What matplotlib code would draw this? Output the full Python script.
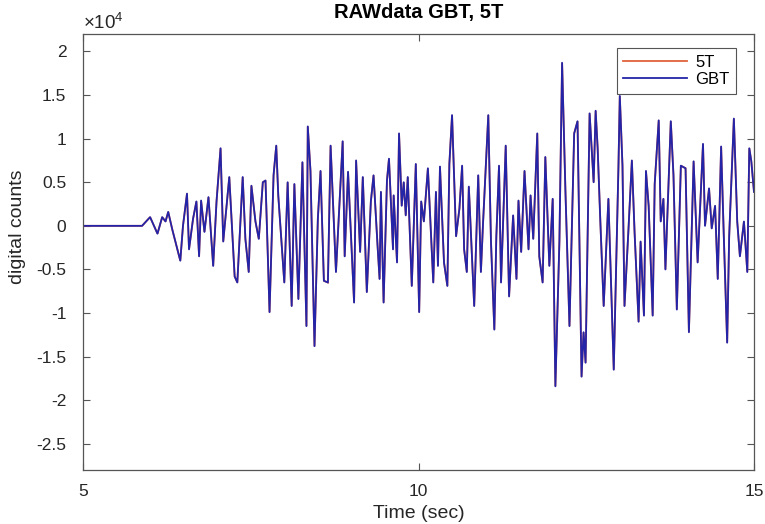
import numpy as np
import matplotlib
matplotlib.use("Agg")
import matplotlib.pyplot as plt
from matplotlib.ticker import FuncFormatter

# ---- data (time in s, amplitude in digital counts) ----
time_s = [5.00, 5.88, 6.00, 6.11, 6.18, 6.23, 6.27, 6.33, 6.45, 6.49, 6.55, 6.58, 6.64, 6.69,
          6.73, 6.76, 6.81, 6.87, 6.94, 6.99, 7.05, 7.09, 7.18, 7.26, 7.30, 7.38, 7.42, 7.47,
          7.51, 7.57, 7.62, 7.68, 7.72, 7.78, 7.84, 7.88, 7.91, 8.00, 8.05, 8.11, 8.15, 8.21,
          8.27, 8.33, 8.35, 8.39, 8.45, 8.50, 8.54, 8.59, 8.65, 8.69, 8.77, 8.87, 8.90, 8.95,
          9.04, 9.07, 9.13, 9.17, 9.23, 9.29, 9.33, 9.39, 9.42, 9.44, 9.48, 9.53, 9.56, 9.62,
          9.63, 9.68, 9.71, 9.75, 9.78, 9.81, 9.84, 9.90, 9.96, 10.01, 10.04, 10.08, 10.14,
          10.22, 10.26, 10.29, 10.32, 10.38, 10.43, 10.46, 10.50, 10.56, 10.61, 10.65, 10.68,
          10.72, 10.75, 10.83, 10.89, 10.93, 10.96, 11.04, 11.08, 11.13, 11.16, 11.20, 11.23,
          11.30, 11.35, 11.38, 11.41, 11.46, 11.49, 11.53, 11.58, 11.64, 11.67, 11.71, 11.77,
          11.80, 11.85, 11.89, 11.95, 12.00, 12.04, 12.10, 12.14, 12.19, 12.25, 12.32, 12.37,
          12.43, 12.46, 12.49, 12.55, 12.61, 12.64, 12.67, 12.71, 12.76, 12.83, 12.91, 12.98,
          13.00, 13.04, 13.07, 13.13, 13.18, 13.22, 13.28, 13.31, 13.36, 13.39, 13.43, 13.49,
          13.52, 13.58, 13.61, 13.65, 13.68, 13.73, 13.76, 13.80, 13.85, 13.91, 13.98, 14.03,
          14.10, 14.16, 14.24, 14.27, 14.33, 14.37, 14.42, 14.46, 14.51, 14.55, 14.60, 14.63,
          14.70, 14.75, 14.79, 14.85, 14.90, 14.93, 14.96, 15.00]

counts_GBT = [0, 0, 1000, -900, 1000, 500, 1600, -400, -4000, 0, 3700, -2700, 800, 2800,
              -3500, 2900, -700, 3300, -4600, 2800, 8900, -1800, 5600, -5800, -6500, 5600, -1500, -5300,
              4600, 500, -1500, 5000, 5200, -9900, 5800, 9200, 3500, -6500, 5000, -9200, 4800, -8400,
              7300, -11500, 11400, 6300, -13800, 800, 6300, -6300, -6500, 9200, -5300, 9700, -3500, 6200,
              -8800, 7500, -3000, 5600, -7600, 2800, 5800, -2300, -6100, 3900, -8800, 5200, 7700, -2700,
              3500, -4200, 10600, 2300, 5000, 1200, 5600, -6900, 7100, -9900, 2800, 500, 6600,
              -6500, 3900, -4600, 6800, -4200, -6900, 7100, 12700, -1200, 2000, 6900, -2700,
              -5300, 4500, -9200, 5800, -5300, 0, 12700, -1800, -11900, -1200, 6900, -6500,
              9200, -8100, -3500, 1200, -6100, 2900, -3000, 6300, -2700, 3500, -1500, 10600,
              -3500, -6500, 7900, -4600, 3100, -18400, -1800, 18700, 3900, -11500, 10600, 12000,
              -17300, -12200, -15700, 12900, 5000, 13200, 8900, 500, -9200, 3100, -16500, 6800,
              14900, 6900, -9200, -300, 7500, -700, -11000, -1800, -10300, 6300, 2300, -10300,
              4800, 12100, 500, 3100, -5000, 5600, 12000, 5800, -9600, 6900, 6600, -12200,
              7400, -4200, 9400, 0, 4300, -300, 2300, -6100, 9100, -1200, -13400, -1200,
              12300, 500, -3500, 500, -5300, 8900, 7400, 3900]

counts_5T = list(counts_GBT)   # the two records overlap at this scale

x_ticks = [5, 10, 15]
y_ticks = [-25000, -20000, -15000, -10000, -5000, 0, 5000, 10000, 15000, 20000]

# ---- style ----
plt.rcParams['font.family'] = ['Liberation Sans', 'DejaVu Sans']
plt.rcParams['mathtext.fontset'] = 'custom'
plt.rcParams['mathtext.rm'] = 'Liberation Sans'
plt.rcParams['mathtext.it'] = 'Liberation Sans:italic'

axis_col = '#555555'
text_col = '#262626'

fig = plt.figure(figsize=(7.65, 5.24), dpi=100)
ax = fig.add_axes([83 / 765, 54 / 524, 671 / 765, 436 / 524])

ax.plot(time_s, counts_5T, color='#E0623C', lw=1.3, solid_joinstyle='miter', label='5T')
ax.plot(time_s, counts_GBT, color='#2424A8', lw=1.3, solid_joinstyle='round', label='GBT')

ax.set_xlim(5, 15)
ax.set_ylim(-28000, 22000)
ax.set_xticks(x_ticks)
ax.set_yticks(y_ticks)
ax.xaxis.set_major_formatter(FuncFormatter(lambda v, _: f"{v:g}"))
ax.yaxis.set_major_formatter(FuncFormatter(lambda v, _: f"{v / 1e4:g}"))
ax.tick_params(direction='in', top=True, right=True, length=5, width=0.8,
               colors=axis_col, labelcolor=text_col, labelsize=12.5)
ax.tick_params(axis='y', pad=12)
ax.tick_params(axis='x', pad=10)
for s in ax.spines.values():
    s.set_color(axis_col)
    s.set_linewidth(0.9)

ax.set_title('RAWdata GBT, 5T', fontweight='bold', fontsize=14.5, color='black',
             y=1 + 21 / 436, va='center', pad=0)
ax.set_xlabel('Time (sec)', fontsize=14, color=text_col, va='center')
ax.xaxis.set_label_coords(0.5, -44 / 436)
ax.set_ylabel('digital counts', fontsize=14, color=text_col, va='center')
ax.yaxis.set_label_coords(-65 / 671, 243 / 436)
ax.text(0.0, 1.003, r'$\times10^{4}$', transform=ax.transAxes, ha='left', va='bottom',
        fontsize=13.5, color=text_col)

leg = ax.legend(loc='upper right', bbox_to_anchor=(0.973, 0.968), borderaxespad=0,
                fancybox=False, edgecolor=axis_col, framealpha=1, fontsize=12,
                handlelength=3.8, borderpad=0.4, labelspacing=0.15, handletextpad=0.5)
leg.get_frame().set_linewidth(0.8)

fig.savefig('out.png', dpi=100)
